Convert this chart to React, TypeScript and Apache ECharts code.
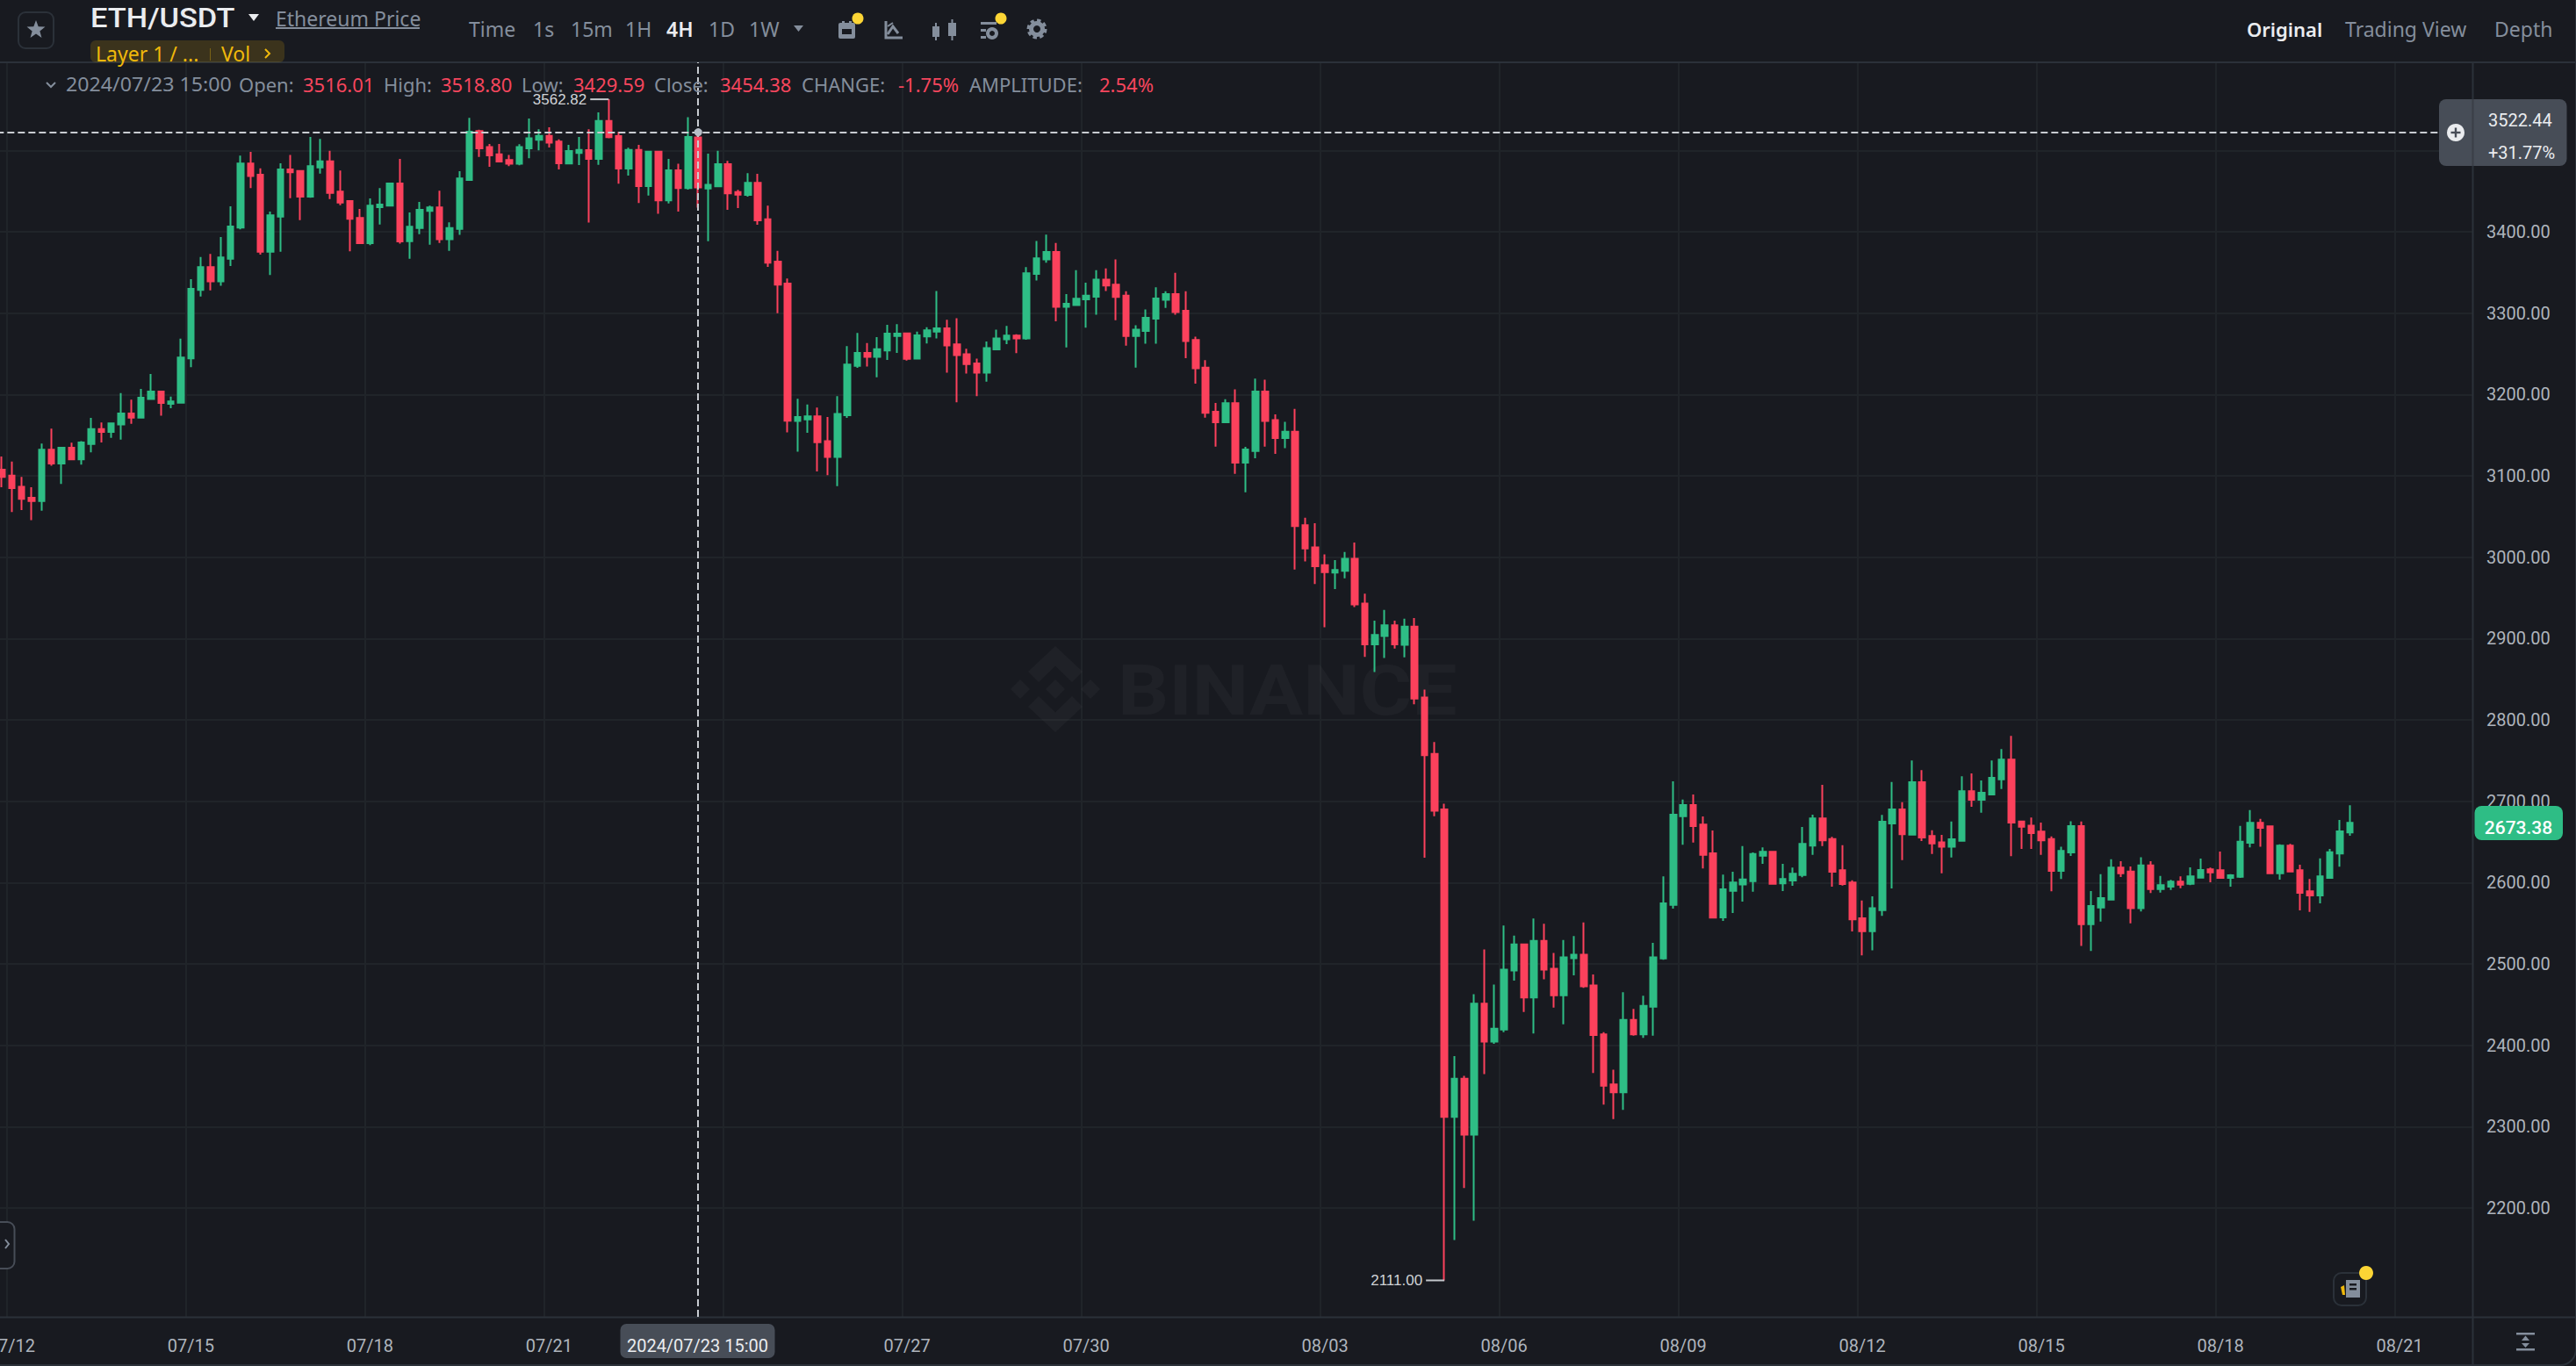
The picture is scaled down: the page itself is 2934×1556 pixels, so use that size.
import React, { useEffect, useRef } from "react";
import * as echarts from "echarts";

const opens = [
  3107.6, 3100.4, 3086.4, 3073, 3069.1, 3132, 3115.1, 3134.6, 3120.2, 3139.2,
  3157.6, 3154, 3163, 3176.6, 3171.6, 3194.3, 3203.6, 3188.5, 3189.9, 3244.3,
  3328.4, 3356.5, 3338.9, 3366.9, 3405, 3483.8, 3470.2, 3375.5, 3418.7, 3476.6,
  3474.8, 3443.2, 3479.1, 3486.7, 3449.3, 3437.8, 3416.9, 3386, 3430.2, 3432,
  3459.4, 3388.5, 3404.7, 3425.5, 3429.9, 3390.7, 3403.6, 3463.7, 3523.7, 3504,
  3495.3, 3488.1, 3483.5, 3502.5, 3513, 3518, 3510.8, 3483.8, 3496.8, 3500.4,
  3489.6, 3536.3, 3517.6, 3477.7, 3500.7, 3456.1, 3498.6, 3438.5, 3475.5, 3453.6,
  3516.01, 3453.2, 3455.8, 3483.1, 3448.9, 3445.3, 3460.1, 3415.5, 3363.3, 3336.3,
  3167.4, 3169.4, 3173.1, 3142.6, 3123.2, 3174.4, 3235.1, 3251.2, 3246.2, 3254.1,
  3271.9, 3275.2, 3244.2, 3271.4, 3277.2, 3281.3, 3261.5, 3249.5, 3238, 3226.8,
  3255.3, 3267.7, 3272.3, 3269, 3348.3, 3366, 3375.1, 3307.8, 3309.8, 3316.9,
  3320.2, 3341.2, 3335, 3321.4, 3271.9, 3278, 3293.3, 3316.5, 3323.5, 3302.8,
  3266.9, 3233, 3178.9, 3165.7, 3189.3, 3116.1, 3130.6, 3203.7, 3168.6, 3146.3,
  3154.1, 3039.3, 3012.1, 2990.2, 2981.1, 2983.2, 2998, 2943.1, 2892.7, 2903,
  2916.3, 2892.3, 2914.6, 2827.5, 2758.2, 2690, 2312.1, 2358.8, 2290.1, 2451.1,
  2404.4, 2419.4, 2491.9, 2524.1, 2458.6, 2528.4, 2494.1, 2461.3, 2507, 2511.3,
  2473.7, 2413.5, 2351.8, 2342.1, 2431.3, 2413.5, 2447.4, 2506.8, 2572.7, 2681.7,
  2695.3, 2671.2, 2636, 2557.2, 2589.9, 2597.8, 2601.8, 2633.1, 2637.8, 2598.9,
  2602.5, 2609.4, 2645.3, 2678.8, 2653.6, 2615.1, 2600, 2556.1, 2540.3, 2566.2,
  2672.7, 2689.9, 2659, 2723.4, 2657.2, 2649.6, 2644.2, 2651.4, 2712.2, 2701.8,
  2708.3, 2727, 2751.1, 2675.2, 2670.1, 2662.6, 2653.6, 2614.4, 2637.1, 2669.4,
  2548.9, 2569.4, 2579.1, 2618.4, 2613.7, 2568.4, 2621.2, 2592.1, 2595, 2601.1,
  2598.6, 2606.1, 2616.2, 2615.1, 2605.8, 2607.2, 2648.9, 2673.4, 2669.1, 2611.5,
  2645.3, 2615.1, 2589.2, 2584.2, 2605.8, 2635.6, 2661.5,
];

const closes = [
  3098.6, 3084.9, 3071.6, 3069.1, 3132, 3115.1, 3134.6, 3120.2, 3141, 3157.6,
  3154, 3164.4, 3176.6, 3171.6, 3196.1, 3203.6, 3189.6, 3191.4, 3245.4, 3329.9,
  3356.5, 3338.9, 3368.4, 3406.5, 3483.8, 3468.4, 3375.5, 3420.2, 3476.6, 3473,
  3443.2, 3480.6, 3486.7, 3447.8, 3436, 3415.8, 3386, 3432, 3433.5, 3459.4,
  3388.1, 3406.1, 3427, 3429.9, 3390.7, 3404.7, 3465.5, 3523, 3502.5, 3493.9,
  3486.3, 3483.5, 3504, 3514.8, 3518, 3509.4, 3484.2, 3499.3, 3500.7, 3489.6,
  3536.3, 3516.2, 3477.7, 3500.7, 3456.1, 3498.6, 3438.5, 3475.5, 3453.6, 3516.6,
  3454.38, 3457.6, 3483.1, 3447.1, 3445.7, 3460.1, 3414, 3361.9, 3334.9, 3167.6,
  3172.3, 3173.1, 3141.3, 3123.2, 3176, 3236.7, 3251.2, 3246.2, 3255.7, 3274.7,
  3274.7, 3243.8, 3272.7, 3278.9, 3281.3, 3260.3, 3248.3, 3237.2, 3226.8, 3257,
  3269, 3272.3, 3269, 3349.1, 3367.3, 3375.1, 3307.8, 3311.5, 3317.7, 3321.4,
  3341.2, 3333.8, 3319.8, 3271.9, 3279.7, 3294.2, 3318.1, 3323.5, 3301.2, 3265.7,
  3232.2, 3177.3, 3165.7, 3189.3, 3116.1, 3132.3, 3203.7, 3167.4, 3146.3, 3154.1,
  3038.1, 3010.8, 2988.9, 2981.5, 2984.4, 2998, 2941.9, 2892.7, 2904.3, 2916.3,
  2892.7, 2914.6, 2826.2, 2756.6, 2688.4, 2312.1, 2358.8, 2290.1, 2451.1, 2404.4,
  2420.5, 2493, 2524.1, 2458.6, 2528.4, 2493, 2461.3, 2508, 2511.3, 2472.6,
  2412.5, 2350.2, 2342.1, 2431.3, 2413.5, 2448.4, 2508, 2574.5, 2683.5, 2695.3,
  2669.4, 2634.2, 2556.8, 2591.7, 2600, 2604, 2635.3, 2637.8, 2598.6, 2604.3,
  2610.8, 2647.5, 2678.8, 2651.8, 2613.3, 2598.2, 2554.7, 2540.3, 2568.4, 2674.8,
  2689.9, 2659.4, 2723.4, 2655.4, 2648.2, 2644.2, 2653.2, 2712.2, 2701.8, 2710.4,
  2728.8, 2751.1, 2673.7, 2668.7, 2660.8, 2651.8, 2614.4, 2638.9, 2669.4, 2548.9,
  2571.2, 2580.9, 2618.4, 2611.5, 2568.4, 2621.2, 2592.1, 2596.8, 2601.1, 2597.5,
  2607.6, 2615.5, 2612.6, 2605.8, 2609, 2650.4, 2673.4, 2667.3, 2611.5, 2645.3,
  2613.7, 2587.4, 2584.2, 2607.6, 2637.4, 2663, 2673.38,
];

const highs = [
  3123.8, 3117.6, 3098.6, 3086, 3139.6, 3157.9, 3135.3, 3140.7, 3142.5, 3171.2,
  3165.5, 3164.8, 3201.8, 3193.5, 3206.9, 3225.2, 3203.6, 3197.5, 3268.7, 3341.7,
  3369.1, 3372.7, 3393.5, 3431.3, 3493.5, 3498.2, 3478.1, 3424.8, 3484.2, 3494.3,
  3475.2, 3516.6, 3514, 3499.6, 3475.2, 3437.8, 3428.1, 3441, 3453.6, 3460.1,
  3489.6, 3423.7, 3436.7, 3432, 3450.4, 3411.5, 3474.5, 3539.9, 3525.5, 3507.9,
  3507.9, 3494.3, 3507.6, 3539.2, 3525.9, 3528.4, 3513.7, 3506.8, 3516.6, 3525.9,
  3546.8, 3562.82, 3523, 3503.2, 3506.8, 3498.6, 3498.6, 3489.6, 3483.5, 3540.7,
  3518.8, 3496, 3499.6, 3487.1, 3451.4, 3471.9, 3471.2, 3432, 3376.6, 3342.5,
  3194.6, 3187.6, 3183.9, 3172.3, 3197.9, 3259.5, 3275.6, 3263.2, 3270.6, 3285.5,
  3286.3, 3275.2, 3277.2, 3282.6, 3327.2, 3291.7, 3293.7, 3256.2, 3244.2, 3265.2,
  3279.7, 3284.2, 3273.9, 3356.5, 3388.7, 3396.6, 3386.3, 3323.5, 3352.8, 3337.5,
  3352.8, 3354.9, 3366, 3326.8, 3285.1, 3304.5, 3331.7, 3326.8, 3349.5, 3326.8,
  3271, 3242.1, 3189.7, 3194.2, 3206.2, 3135.6, 3219.4, 3218.2, 3175.6, 3166.5,
  3182.2, 3048.4, 3041.8, 3003.4, 2996.4, 3006.3, 3017.9, 2955.1, 2922, 2935.3,
  2922, 2924.5, 2925.3, 2837.2, 2772.7, 2697, 2386.7, 2362.5, 2462.9, 2517.7,
  2474.7, 2547.2, 2534.9, 2524.1, 2555.8, 2549.4, 2513.4, 2529.5, 2534.3, 2551,
  2487.1, 2416.2, 2370.1, 2465.1, 2444.7, 2460.8, 2525.8, 2607.6, 2724.5, 2702.2,
  2708.3, 2681.3, 2664, 2609.7, 2613.3, 2645, 2637.1, 2643.2, 2637.8, 2623,
  2618.4, 2668.3, 2683.5, 2720.1, 2656.1, 2646, 2602.9, 2578.1, 2583.1, 2683.1,
  2723.7, 2698.9, 2750, 2738.1, 2664.4, 2658.6, 2675.2, 2730.6, 2734.2, 2725.5,
  2750, 2764, 2780.2, 2675.2, 2679.9, 2673.7, 2656.8, 2644.2, 2675.5, 2675.2,
  2589.6, 2610.4, 2628.8, 2626.3, 2619.8, 2631, 2626.3, 2608.3, 2603.2, 2607.6,
  2618.7, 2629.5, 2618.4, 2638.1, 2610.4, 2669.8, 2689.2, 2678.4, 2669.8, 2647.1,
  2647.5, 2621.9, 2604.3, 2629.9, 2641.4, 2677, 2695,
];

const lows = [
  3086, 3055.4, 3057.9, 3045.4, 3057.2, 3112.3, 3089.9, 3120.2, 3113.7, 3128.8,
  3141, 3146.8, 3144.6, 3164, 3171.2, 3194.3, 3173.8, 3183.1, 3189.6, 3233.5,
  3320.5, 3328.1, 3333.5, 3357.9, 3402.9, 3453.6, 3372, 3346.8, 3375.5, 3441.4,
  3414.4, 3441.7, 3471.6, 3440.3, 3432.7, 3375.9, 3385.6, 3383.5, 3409, 3431.3,
  3385.3, 3366.9, 3397.1, 3384.2, 3386.3, 3376.6, 3396.1, 3463.7, 3492.1, 3479.9,
  3486.3, 3480.6, 3481.7, 3490.3, 3500, 3503.6, 3476.6, 3483.5, 3482, 3411.2,
  3482.4, 3514.8, 3459, 3469.1, 3435.3, 3444.6, 3422, 3434.9, 3424.8, 3451.8,
  3429.59, 3388.5, 3454.7, 3427, 3429.1, 3443.2, 3408.6, 3356.8, 3300, 3153.3,
  3129.8, 3152.9, 3105.4, 3100.9, 3087.2, 3171.1, 3232.6, 3234.3, 3221.1, 3242.5,
  3251.2, 3241.7, 3244.2, 3262.8, 3269, 3226.8, 3190.5, 3225.6, 3197.9, 3215.7,
  3254.5, 3261.9, 3250.8, 3267.3, 3340, 3361.9, 3290, 3257.8, 3309, 3282.2,
  3297.9, 3327.2, 3291.3, 3259.9, 3233, 3262.4, 3262.4, 3306.5, 3297.9, 3244.6,
  3213.2, 3171.5, 3136, 3165.7, 3102.5, 3079.8, 3121.5, 3136, 3126.9, 3133.9,
  2984.8, 2994.7, 2967.1, 2913.8, 2960.9, 2974.1, 2938.6, 2877.4, 2858.9, 2876.2,
  2887.8, 2877, 2819.2, 2630.5, 2681.5, 2111, 2160.7, 2224.5, 2184.3, 2364.7,
  2401.7, 2416.2, 2479.6, 2440.9, 2414.6, 2481.2, 2446.3, 2425.9, 2486, 2470.5,
  2365.8, 2327.1, 2309.4, 2320.7, 2411.9, 2409.2, 2411.9, 2505, 2568, 2646.4,
  2649.3, 2617.3, 2556.8, 2552.9, 2562.6, 2576.6, 2588.9, 2623, 2597.8, 2589.6,
  2596, 2606.5, 2634.2, 2645, 2595, 2596.4, 2539.9, 2510.4, 2516.6, 2559,
  2592.8, 2627.7, 2658.3, 2651.1, 2635.3, 2611.5, 2630.9, 2650.4, 2693.2, 2686,
  2707.6, 2715.1, 2632.4, 2641.4, 2641.4, 2634.2, 2589.2, 2604.3, 2632.7, 2522,
  2515.8, 2552.2, 2578.1, 2606.8, 2550, 2564.4, 2587.1, 2587.8, 2591, 2593.2,
  2596.8, 2605.8, 2600.4, 2605.8, 2595, 2605.8, 2643.2, 2644.2, 2610.8, 2603.6,
  2612.6, 2565.8, 2564, 2574.5, 2604.7, 2619.4, 2657.6,
];

const gridTimes = [
  "07/12 03:00", "07/15 03:00", "07/18 03:00", "07/21 03:00", "07/24 03:00", "07/27 03:00", "07/30 03:00",
  "08/03 03:00", "08/06 03:00", "08/09 03:00", "08/12 03:00", "08/15 03:00", "08/18 03:00", "08/21 03:00",
];
const hiddenTickLabel = "07/24 03:00";
const priceTicks = [2200, 2300, 2400, 2500, 2600, 2700, 2800, 2900, 3000, 3100, 3200, 3300, 3400, 3500];
const priceLabels = [2200, 2300, 2400, 2500, 2600, 2700, 2800, 2900, 3000, 3100, 3200, 3300, 3400];
const crossTime = "07/23 15:00";
const crossPrice = 3522.44;
const lastPrice = 2673.38;
const SLOTS = 249;

const pad = (n: number) => String(n).padStart(2, "0");
const times: string[] = [];
for (let k = 0; k < SLOTS; k++) {
  const d = new Date(Date.UTC(2024, 6, 11, 23) + k * 4 * 3600 * 1000);
  times.push(`${pad(d.getUTCMonth() + 1)}/${pad(d.getUTCDate())} ${pad(d.getUTCHours())}:00`);
}

const BG = "#181A20";
const GREEN = "#2EBD85";
const RED = "#FC415C";
const TEXTRED = "#F6465D";
const GRAY = "#848E9C";
const WHITE = "#EAECEF";
const AXIS = "#2B3139";
const SPLIT = "#202429";
const BOX = "#474D57";
const YELLOW = "#F0B90B";
const DOT = "#FCD535";
const SANS = '"Noto Sans", sans-serif';
const NUM = "Roboto, sans-serif";

const txt = (text: string, x: number, y: number, size: number, fill: string, o: any = {}) => ({
  type: "text",
  x,
  y,
  z: o.z ?? 20,
  scaleX: o.scaleX ?? 1,
  style: {
    text,
    x: 0,
    y: 0,
    fill,
    fontSize: size,
    fontFamily: o.family ?? SANS,
    fontWeight: o.weight ?? 400,
    textAlign: o.align ?? "left",
    textVerticalAlign: "middle",
  },
});
const box = (x: number, y: number, w: number, h: number, fill: string, r = 0, z = 20, stroke?: string, lw = 2) => ({
  type: "rect",
  z,
  shape: { x, y, width: w, height: h, r },
  style: { fill, stroke, lineWidth: lw },
});
const poly = (points: number[][], fill: string, z = 20) => ({ type: "polygon", z, shape: { points }, style: { fill } });
const pline = (points: number[][], stroke: string, lw = 2, z = 20) => ({
  type: "polyline",
  z,
  shape: { points },
  style: { stroke, lineWidth: lw, fill: "none" },
});
const circ = (cx: number, cy: number, r: number, fill: string, z = 21) => ({
  type: "circle",
  z,
  shape: { cx, cy, r },
  style: { fill },
});

function buildGraphics(): any[] {
  const g: any[] = [];
  // frame
  g.push(box(2817, 72, 117, 1428, BG, 0, 1));
  g.push({ type: "line", z: 3, shape: { x1: 0, y1: 71, x2: 2934, y2: 71 }, style: { stroke: AXIS, lineWidth: 2 } });
  g.push({ type: "line", z: 3, shape: { x1: 0, y1: 1500.5, x2: 2934, y2: 1500.5 }, style: { stroke: AXIS, lineWidth: 2 } });
  g.push({ type: "line", z: 3, shape: { x1: 2816.5, y1: 71, x2: 2816.5, y2: 1556 }, style: { stroke: AXIS, lineWidth: 2 } });
  g.push(box(-20, -20, 2954, 1575, "none", 18, 3, AXIS, 2));

  // watermark
  const wm = "rgba(255,255,255,0.032)";
  g.push(poly([[1202, 736], [1233, 765], [1221, 777], [1202, 758.6], [1183, 777], [1171, 765]], wm, 1));
  g.push(poly([[1202, 834], [1233, 805], [1221, 793], [1202, 811.4], [1183, 793], [1171, 805]], wm, 1));
  g.push(poly([[1202, 774], [1213, 785], [1202, 796], [1191, 785]], wm, 1));
  g.push(poly([[1162, 774], [1173, 785], [1162, 796], [1151, 785]], wm, 1));
  g.push(poly([[1242, 774], [1253, 785], [1242, 796], [1231, 785]], wm, 1));
  g.push(txt("BINANCE", 1273, 786, 80, wm, { weight: 700, family: NUM, z: 1, scaleX: 1.14 }));

  // header left
  g.push(box(21, 14, 40, 41, "none", 8, 20, AXIS, 2));
  const star: number[][] = [];
  for (let k = 0; k < 10; k++) {
    const r = k % 2 ? 4.6 : 11;
    const a = -Math.PI / 2 + (k * Math.PI) / 5;
    star.push([41 + r * Math.cos(a), 34 + r * Math.sin(a)]);
  }
  g.push(poly(star, GRAY));
  g.push(txt("ETH/USDT", 103, 21, 31, WHITE, { weight: 500, family: NUM, scaleX: 1.11 }));
  g.push(poly([[283, 16], [295, 16], [289, 24]], WHITE));
  g.push(txt("Ethereum Price", 314, 21, 23, GRAY));
  g.push(box(314, 31, 164, 2, GRAY));
  const tabs: [string, number, string][] = [
    ["Time", 534, GRAY],
    ["1s", 607, GRAY],
    ["15m", 650, GRAY],
    ["1H", 712, GRAY],
    ["4H", 759, WHITE],
    ["1D", 807, GRAY],
    ["1W", 853, GRAY],
  ];
  tabs.forEach(([t, x, c]) => g.push(txt(t, x, 33, 23, c, { weight: t === "4H" ? 600 : 400 })));
  g.push(poly([[904, 29], [915, 29], [909.5, 36]], GRAY));

  // toolbar icons
  g.push(box(955, 26, 19, 18, GRAY, 2));
  g.push(box(959, 33, 11, 6, BG));
  g.push(box(959, 24, 3, 4, GRAY));
  g.push(box(967, 24, 3, 4, GRAY));
  g.push(pline([[1009, 24], [1009, 43], [1028, 43]], GRAY, 3));
  g.push(pline([[1011, 39], [1017, 30], [1023, 38]], GRAY, 3));
  g.push(pline([[1011, 30], [1017, 26]], GRAY, 2));
  g.push(box(1062, 30, 8, 12, GRAY));
  g.push(box(1065, 26, 2, 20, GRAY));
  g.push(box(1080, 26, 9, 15, GRAY));
  g.push(box(1083.5, 22, 2, 24, GRAY));
  g.push(box(1117, 25, 18, 3, GRAY));
  g.push(box(1117, 33, 6, 3, GRAY));
  g.push(box(1117, 41, 6, 3, GRAY));
  g.push({ type: "ring", z: 20, shape: { cx: 1130, cy: 38, r: 7, r0: 3 }, style: { fill: GRAY } });
  g.push({ type: "circle", z: 20, shape: { cx: 1181, cy: 33, r: 9 }, style: { fill: "none", stroke: GRAY, lineWidth: 5, lineDash: [4, 3] } });
  g.push({ type: "ring", z: 20, shape: { cx: 1181, cy: 33, r: 9, r0: 4 }, style: { fill: GRAY } });
  g.push(circ(977, 21, 6.5, DOT));
  g.push(circ(1140, 21, 6.5, DOT));

  // tags
  g.push(box(103, 46, 221, 25, "rgba(240,185,11,0.16)", 6, 19));
  g.push(txt("Layer 1 / ...", 109, 61, 23, YELLOW));
  g.push(box(239, 55, 1, 14, "rgba(240,185,11,0.35)"));
  g.push(txt("Vol", 252, 61, 23, YELLOW));
  g.push(pline([[302, 56], [307, 61], [302, 66]], YELLOW, 2));

  // right header
  g.push(txt("Original", 2559, 33, 22, WHITE, { weight: 600 }));
  g.push(txt("Trading View", 2671, 33, 23, GRAY));
  g.push(txt("Depth", 2841, 33, 23, GRAY));

  // OHLC row
  g.push(pline([[53, 94], [58, 99], [63, 94]], GRAY, 2));
  const ohlc: [string, number, string, number][] = [
    ["2024/07/23 15:00", 75, GRAY, 1.055],
    ["Open:", 272, GRAY, 1],
    ["3516.01", 345, TEXTRED, 1],
    ["High:", 437, GRAY, 1],
    ["3518.80", 502, TEXTRED, 1],
    ["Low:", 594, GRAY, 1],
    ["3429.59", 653, TEXTRED, 1],
    ["Close:", 745, GRAY, 1],
    ["3454.38", 820, TEXTRED, 1],
    ["CHANGE:", 913, GRAY, 1],
    ["-1.75%", 1023, TEXTRED, 1],
    ["AMPLITUDE:", 1104, GRAY, 1],
    ["2.54%", 1252, TEXTRED, 1],
  ];
  ohlc.forEach(([t, x, c, s]) => g.push(txt(t, x, 96, 22, c, { scaleX: s })));

  // crosshair price box
  g.push(box(2778, 113, 145.5, 76, BOX, 8, 10));
  g.push({ type: "line", z: 11, shape: { x1: 2816.5, y1: 113, x2: 2816.5, y2: 189 }, style: { stroke: "#3A3F47", lineWidth: 2 } });
  g.push(circ(2797, 151, 10, WHITE, 11));
  g.push(box(2791.5, 149.8, 11, 2.4, BOX, 0, 12));
  g.push(box(2795.8, 145.5, 2.4, 11, BOX, 0, 12));
  g.push(txt("3522.44", 2834, 137, 20, WHITE, { family: NUM, z: 12 }));
  g.push(txt("+31.77%", 2834, 174, 20, WHITE, { family: NUM, z: 12 }));

  // crosshair time box
  g.push(box(706.5, 1508, 176, 39, BOX, 7, 10));
  g.push(txt("2024/07/23 15:00", 794.5, 1533, 20, WHITE, { family: NUM, align: "center", z: 12 }));

  // last price tag
  g.push(box(2818.5, 918, 100.5, 39, GREEN, 8, 10));
  g.push(txt(lastPrice.toFixed(2), 2868.5, 943, 21, "#FFFFFF", { family: NUM, weight: 500, align: "center", z: 12 }));

  // left collapse tab
  g.push(box(-10, 1392, 26.5, 53, BG, 8, 5, BOX, 2));
  g.push(pline([[6, 1412], [10, 1417], [6, 1422]], GRAY, 2));

  // news icon
  g.push(box(2658, 1450, 37, 37, BG, 9, 5, AXIS, 2));
  g.push(poly([[2672, 1458], [2688, 1458], [2688, 1478], [2672, 1478]], GRAY, 6));
  g.push(box(2676, 1462, 8, 2.5, BG, 0, 7));
  g.push(box(2676, 1467, 8, 2.5, BG, 0, 7));
  g.push(poly([[2666, 1466], [2670, 1464], [2671, 1475], [2668, 1475]], YELLOW, 6));
  g.push(circ(2695, 1450, 8, DOT, 8));

  // fit icon
  g.push(box(2866, 1518, 21, 2.5, GRAY));
  g.push(box(2866, 1536, 21, 2.5, GRAY));
  g.push(poly([[2876.5, 1521.5], [2881, 1527], [2872, 1527]], GRAY));
  g.push(poly([[2876.5, 1535], [2881, 1530], [2872, 1530]], GRAY));
  return g;
}

export default function App() {
  const ref = useRef<HTMLDivElement>(null);
  useEffect(() => {
    document.body.style.margin = "0";
    document.body.style.background = BG;
    const chart = echarts.init(ref.current!, undefined, { renderer: "svg" });
    const candles = opens.map((o, i) => [o, closes[i], lows[i], highs[i]]);
    const hiIdx = highs.indexOf(Math.max(...highs));
    const loIdx = lows.indexOf(Math.min(...lows));
    const extreme = (idx: number, value: number) => ({
      coord: [times[idx], value],
      symbol: "rect",
      symbolSize: [21, 2],
      symbolOffset: [-10.5, 0],
      itemStyle: { color: "#C4C8CC" },
      label: {
        show: true,
        position: "left",
        distance: 4,
        formatter: value.toFixed(2),
        color: "#D0D3D7",
        fontSize: 17,
        fontFamily: '"Liberation Sans", sans-serif',
      },
    });
    const yBase = {
      type: "value",
      position: "right",
      min: 2066.2,
      max: 3608.27,
      scale: true,
      axisLine: { show: false },
    };
    chart.setOption({
      animation: false,
      backgroundColor: BG,
      grid: { left: -3.66, top: 71, width: 2821.67, height: 1429, containLabel: false, outerBoundsMode: "none" },
      xAxis: {
        type: "category",
        data: times,
        boundaryGap: true,
        axisLine: { show: false },
        axisTick: { show: false },
        splitLine: {
          show: true,
          interval: (_: number, v: string) => gridTimes.includes(v),
          lineStyle: { color: SPLIT, width: 2 },
        },
        axisLabel: {
          interval: (_: number, v: string) => gridTimes.includes(v) && v !== hiddenTickLabel,
          formatter: (v: string) => v.slice(0, 5),
          color: "#AEB4BC",
          fontSize: 20,
          fontFamily: NUM,
          margin: 23,
          hideOverlap: false,
        },
      },
      yAxis: [
        {
          ...yBase,
          axisTick: { show: false, customValues: priceTicks },
          axisLabel: { show: false },
          splitLine: { show: true, lineStyle: { color: SPLIT, width: 2 } },
        },
        {
          ...yBase,
          z: 2,
          axisTick: { show: false, customValues: priceLabels },
          splitLine: { show: false },
          axisLabel: {
            customValues: priceLabels,
            formatter: (v: number) => v.toFixed(2),
            color: "#AEB4BC",
            fontSize: 20,
            fontFamily: NUM,
            margin: 14,
            align: "left",
          },
        },
      ],
      graphic: { elements: buildGraphics() },
      series: [
        {
          type: "candlestick",
          data: candles,
          barWidth: 7,
          itemStyle: { color: GREEN, color0: RED, borderColor: GREEN, borderColor0: RED, borderWidth: 2 },
          markLine: {
            silent: true,
            symbol: "none",
            label: { show: false },
            lineStyle: { color: "#C8CCD1", type: [8, 4], width: 2 },
            data: [{ yAxis: crossPrice }, { xAxis: crossTime }],
          },
          markPoint: {
            silent: true,
            data: [
              {
                coord: [crossTime, crossPrice],
                symbol: "circle",
                symbolSize: 9,
                itemStyle: { color: "#B7BDC6" },
                label: { show: false },
              },
              extreme(hiIdx, highs[hiIdx]),
              extreme(loIdx, lows[loIdx]),
            ],
          },
        },
      ],
    });
    return () => chart.dispose();
  }, []);
  return <div ref={ref} style={{ position: "absolute", left: 0, top: 0, width: 2934, height: 1556 }} />;
}
